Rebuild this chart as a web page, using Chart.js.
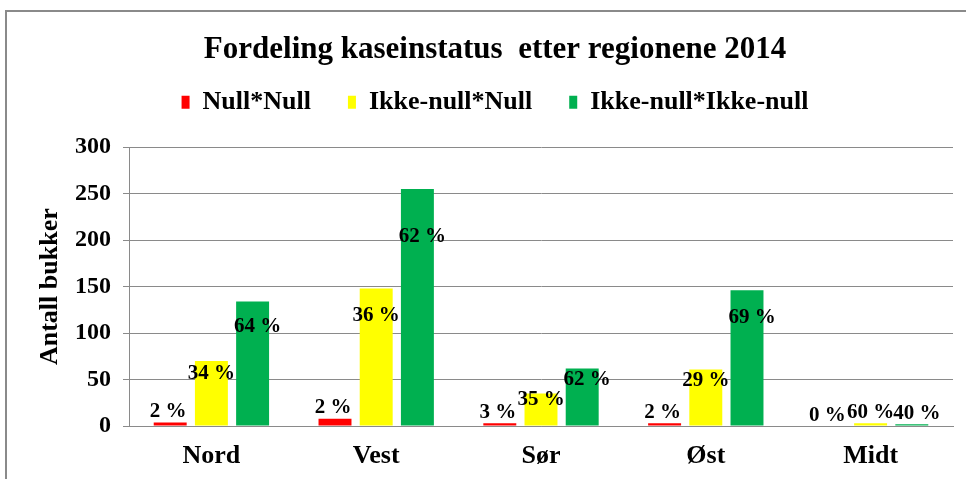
<!DOCTYPE html>
<html>
<head>
<meta charset="utf-8">
<script src="https://cdn.jsdelivr.net/npm/chart.js@4"></script>
<style>
  html, body { margin: 0; padding: 0; background: #fff; overflow: hidden; }
  #frame { position: absolute; left: 5px; top: 10px; width: 1100px; height: 600px; border: 2px solid #8a8a8a; }
  #wrap { position: absolute; left: 0; top: 0; width: 966px; height: 479px; }
</style>
</head>
<body>
<div id="frame"></div>
<div id="wrap"><canvas id="chart"></canvas></div>
<script>
// Regioner og antall bukker per kaseinstatus (lest av figuren)
const REGIONS = ['Nord', 'Vest', 'Sør', 'Øst', 'Midt'];
const NULL_NULL = [4, 8, 3, 3, 0];
const IKKE_NULL = [70, 148, 35, 61, 3];
const IKKE_IKKE = [134, 255, 62, 146, 2];

// Prosentetiketter slik de står i figuren
const PCT_NULL_NULL = ['2 %', '2 %', '3 %', '2 %', '0 %'];
const PCT_IKKE_NULL = ['34 %', '36 %', '35 %', '29 %', '60 %'];
const PCT_IKKE_IKKE = ['64 %', '62 %', '62 %', '69 %', '40 %'];

const Y_TICKS = [0, 50, 100, 150, 200, 250, 300];

const FONT = "'Liberation Serif', 'Times New Roman', serif";

// ── Etiketter på søylene ─────────────────────────────────────────────
const pctLabels = {
    id: 'pctLabels',
    afterDatasetsDraw(chart) {
        const { ctx } = chart;
        const y = chart.scales.y;
        ctx.save();
        ctx.font = `bold 21px ${FONT}`;
        ctx.fillStyle = '#000';
        ctx.textAlign = 'center';
        ctx.textBaseline = 'middle';
        chart.data.datasets.forEach((ds, di) => {
            const meta = chart.getDatasetMeta(di);
            const dx = ds.labelShift || 0;
            meta.data.forEach((bar, i) => {
                const v = ds.data[i];
                const ly = v >= 20 ? y.getPixelForValue(v * 0.8) : bar.y - 11;
                ctx.fillText(ds.pct[i], bar.x + dx, ly);
            });
        });
        ctx.restore();
    },
};

// Litt ekstra luft under legenden
const legendGap = {
    id: 'legendGap',
    beforeInit(chart) {
        const orig = chart.legend.fit;
        chart.legend.fit = function () {
            orig.bind(chart.legend)();
            this.height += 22;
        };
    },
};

const mk = (label, data, pct, color, labelShift) => ({
    label, data, pct, labelShift, backgroundColor: color, borderWidth: 0,
    barPercentage: 0.8, categoryPercentage: 0.75,
});

new Chart(document.getElementById('chart'), {
    type: 'bar',
    data: {
        labels: REGIONS,
        datasets: [
            mk('Null*Null', NULL_NULL, PCT_NULL_NULL, '#ff0000', -2),
            mk('Ikke-null*Null', IKKE_NULL, PCT_IKKE_NULL, '#ffff00', 0),
            mk('Ikke-null*Ikke-null', IKKE_IKKE, PCT_IKKE_IKKE, '#00b050', 5),
        ],
    },
    options: {
        responsive: true,
        maintainAspectRatio: false,
        animation: false,
        layout: { padding: { left: 37, right: 13, top: 0, bottom: 0 } },
        plugins: {
            title: {
                display: true,
                text: 'Fordeling kaseinstatus  etter regionene 2014',
                color: '#000',
                font: { family: FONT, size: 31, weight: 'bold' },
                padding: { top: 31, bottom: -16 },
            },
            legend: {
                position: 'top',
                labels: {
                    color: '#000',
                    font: { family: FONT, size: 26, weight: 'bold' },
                    boxWidth: 8, boxHeight: 13, padding: 37,
                },
            },
            tooltip: { enabled: false },
        },
        scales: {
            x: {
                grid: { display: false },
                border: { display: true, color: '#8a8a8a', width: 1 },
                ticks: { color: '#000', font: { family: FONT, size: 26, weight: 'bold', lineHeight: 0.65 }, padding: 14 },
            },
            y: {
                min: 0, max: 300,
                afterBuildTicks: (s) => { s.ticks = Y_TICKS.map(v => ({ value: v })); },
                grid: { color: '#8a8a8a', tickLength: 6 },
                border: { display: true, color: '#8a8a8a' },
                ticks: { color: '#000', font: { family: FONT, size: 24, weight: 'bold' }, padding: 12 },
                title: {
                    display: true, text: 'Antall bukker', color: '#000',
                    font: { family: FONT, size: 26, weight: 'bold', lineHeight: 1.0 }, padding: 0,
                },
            },
        },
    },
    plugins: [pctLabels, legendGap],
});
</script>
</body>
</html>
